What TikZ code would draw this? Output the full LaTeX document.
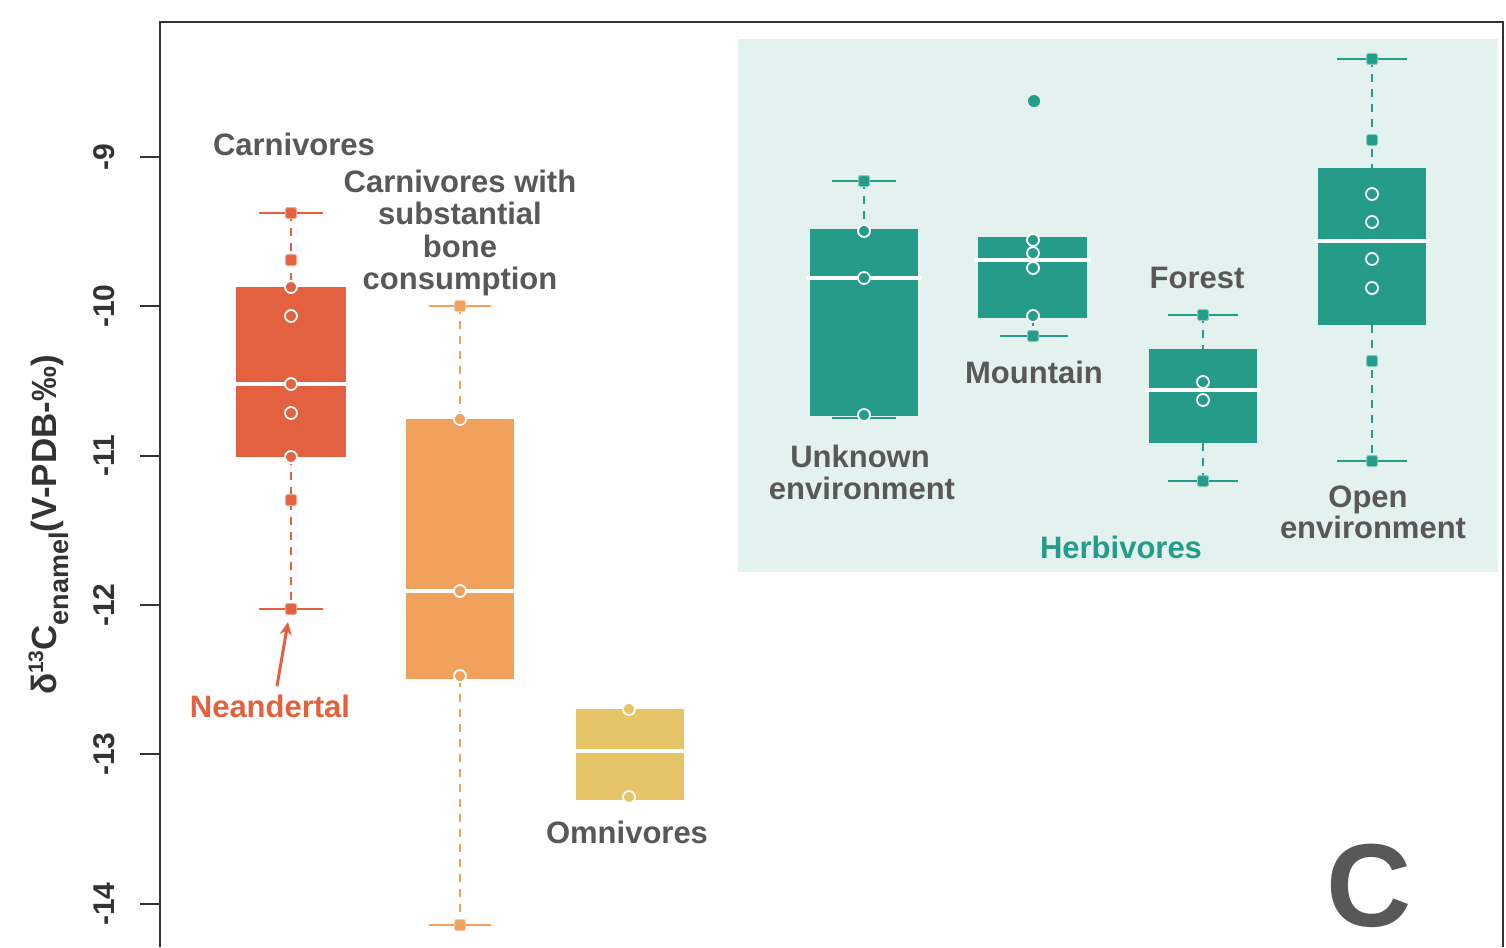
\documentclass[tikz,border=0pt]{standalone}
\usepackage{fontspec}
\setmainfont{Liberation Sans}
\usetikzlibrary{arrows.meta}

\definecolor{carn}{HTML}{E4613F}
\definecolor{bone}{HTML}{F0A15B}
\definecolor{omni}{HTML}{E7C467}
\definecolor{herb}{HTML}{259B8A}
\definecolor{insetbg}{HTML}{E3F2EF}
\definecolor{txt}{HTML}{585858}
\definecolor{axisc}{HTML}{333333}

\tikzset{
  lbl/.style={font=\fontsize{31}{33}\selectfont\bfseries, text=txt, inner sep=0pt, anchor=base},
  ticklbl/.style={font=\fontsize{30}{30}\selectfont\bfseries, text=axisc, inner sep=0pt, rotate=90},
  whisk/.style={line width=2pt, dash pattern=on 8pt off 7pt},
  capline/.style={line width=2pt},
  med/.style={draw=white, line width=4pt},
  frame/.style={draw=axisc, line width=2pt},
}

% open marker (inside the box) and filled marker (whisker ends / extra values)
\newcommand\openpt[3]{\filldraw[draw=white, fill=#1, line width=1.8pt] (#2,#3) circle (6pt);}
\newcommand\fillpt[3]{\filldraw[draw=white!45!#1, fill=#1, line width=1pt, rounded corners=1.5pt] (#2-5.5,#3-5.5) rectangle (#2+5.5,#3+5.5);}
% box: colour, centre x, half width, q-top, q-bottom, median, whisker top, whisker bottom, cap half width
\newcommand\bplot[9]{%
  \fill[#1] (#2-#3,#4) rectangle (#2+#3,#5);
  \draw[#1, whisk] (#2,#7) -- (#2,#4);
  \draw[#1, whisk] (#2,#5) -- (#2,#8);
  \draw[#1, capline] (#2-#9,#7) -- (#2+#9,#7);
  \draw[#1, capline] (#2-#9,#8) -- (#2+#9,#8);
  \draw[med] (#2-#3-4,#6) -- (#2+#3+4,#6);
}

\begin{document}
\begin{tikzpicture}[x=1pt, y=-1pt]
\useasboundingbox[fill=white] (0,0) rectangle (1506,947);

% herbivore panel background
\fill[insetbg] (738,39) rectangle (1498,572);

% plot frame
\draw[frame] (160,947) -- (160,22) -- (1503,22) -- (1503,947);

% y axis ticks and labels
\foreach \v/\yy in {-9/157, -10/306, -11/456, -12/605, -13/754, -14/904} {
  \draw[frame] (140,\yy) -- (160,\yy);
  \node[ticklbl] at (104,\yy) {\v};
}
\node[rotate=90, anchor=base, inner sep=0pt, text=axisc,
      font=\fontsize{35}{35}\selectfont\bfseries] (ytitle) at (56,525)
  {δ{\fontsize{21}{21}\selectfont\raisebox{13pt}{13}}C{\fontsize{27}{27}\selectfont\raisebox{-13pt}{enamel}}(V-PDB-‰)};

% carnivores
\bplot{carn}{291}{55}{287}{457}{384}{213}{609}{32}
\fillpt{carn}{291}{213}
\fillpt{carn}{291}{260}
\openpt{carn}{291}{287}
\openpt{carn}{291}{316}
\openpt{carn}{291}{384}
\openpt{carn}{291}{413}
\openpt{carn}{291}{457}
\fillpt{carn}{291}{500}
\fillpt{carn}{291}{609}

% carnivores with substantial bone consumption
\bplot{bone}{460}{54}{419}{679}{591}{306}{925}{31}
\fillpt{bone}{460}{306}
\openpt{bone}{460}{419}
\openpt{bone}{460}{591}
\openpt{bone}{460}{676}
\fillpt{bone}{460}{925}

% omnivores
\fill[omni] (576,709) rectangle (684,800);
\draw[med] (572,751) -- (688,751);
\openpt{omni}{629}{709}
\openpt{omni}{629}{797}

% herbivores: unknown environment
\bplot{herb}{864}{54}{229}{416}{278}{181}{418}{32}
\fillpt{herb}{864}{181}
\openpt{herb}{864}{231}
\openpt{herb}{864}{278}
\openpt{herb}{864}{415}

% herbivores: mountain
\fill[herb] (978,237) rectangle (1087,318);
\draw[herb, whisk] (1033,318) -- (1033,336);
\draw[herb, capline] (1000,336) -- (1068,336);
\draw[med] (974,260) -- (1091,260);
\openpt{herb}{1033}{240}
\openpt{herb}{1033}{253}
\openpt{herb}{1033}{268}
\openpt{herb}{1033}{316}
\fillpt{herb}{1033}{336}
\fill[herb] (1034,101) circle (6pt);

% herbivores: forest
\bplot{herb}{1203}{54}{349}{443}{390}{315}{481}{35}
\fillpt{herb}{1203}{315}
\openpt{herb}{1203}{382}
\openpt{herb}{1203}{400}
\fillpt{herb}{1203}{481}

% herbivores: open environment
\bplot{herb}{1372}{54}{168}{325}{241}{59}{461}{35}
\fillpt{herb}{1372}{59}
\fillpt{herb}{1372}{140}
\openpt{herb}{1372}{194}
\openpt{herb}{1372}{222}
\openpt{herb}{1372}{259}
\openpt{herb}{1372}{288}
\fillpt{herb}{1372}{361}
\fillpt{herb}{1372}{461}

% group labels
\node[lbl] (carnlbl) at (294,155) {Carnivores};
\node[lbl] (bone1) at (460,192) {Carnivores with};
\node[lbl] (bone2) at (460,224) {substantial};
\node[lbl] (bone3) at (460,257) {bone};
\node[lbl] (bone4) at (460,289) {consumption};
\node[lbl] (omnilbl) at (627,843) {Omnivores};
\node[lbl] (unk1) at (860,467) {Unknown};
\node[lbl] (unk2) at (862,499) {environment};
\node[lbl] (mountlbl) at (1034,383) {Mountain};
\node[lbl] (forestlbl) at (1197,288) {Forest};
\node[lbl] (open1) at (1368,507) {Open};
\node[lbl] (open2) at (1373,538) {environment};
\node[lbl, text=herb] (herblbl) at (1121,558) {Herbivores};

% Neandertal marker
\node[lbl, text=carn] (nealbl) at (270,717) {Neandertal};
\coordinate (neapt) at (288,622);
\draw[carn, line width=3pt, -{Stealth[length=13pt, width=12pt]}] (277,686) -- (neapt);

% panel letter
\node[inner sep=0pt, text=txt, font=\fontsize{118}{100}\selectfont\bfseries] (panel) at (1369,886) {C};
\end{tikzpicture}
\end{document}
